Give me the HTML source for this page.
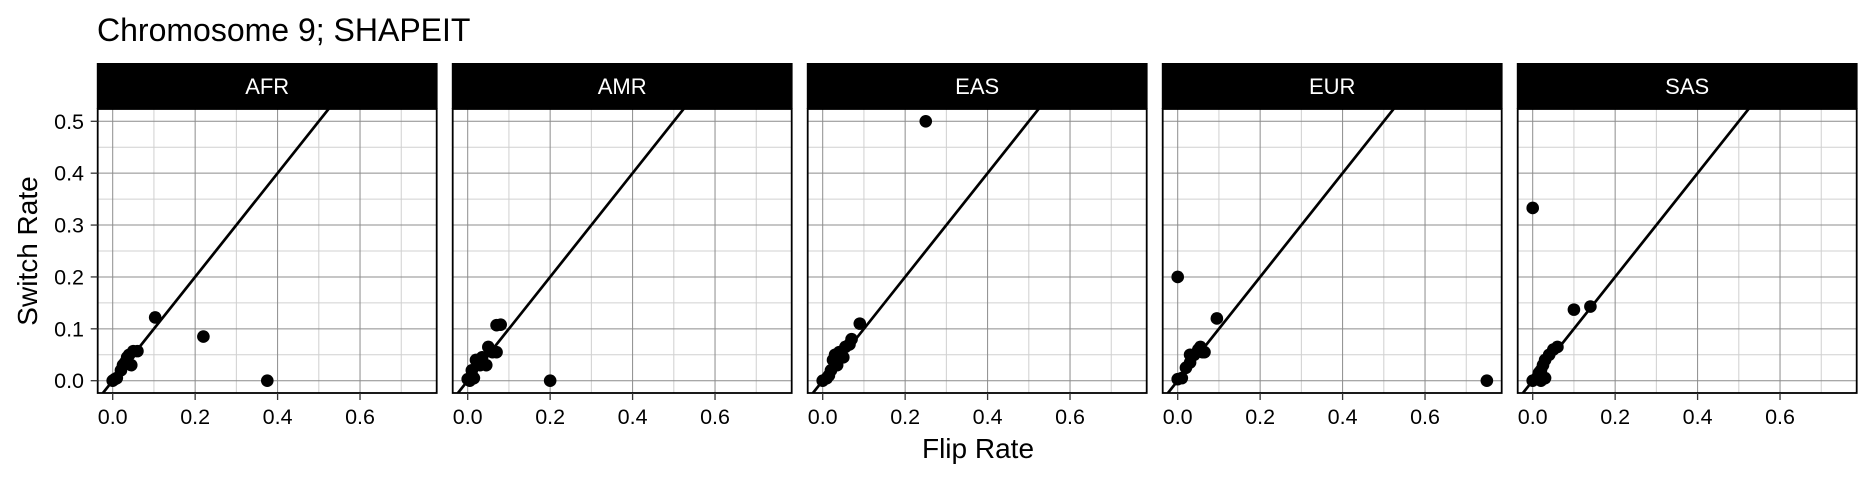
<!DOCTYPE html>
<html><head><meta charset="utf-8"><style>
html,body{margin:0;padding:0;background:#fff;}
svg{display:block;font-family:"Liberation Sans",Arial,sans-serif;}
</style></head><body>
<svg id="chart" width="1872" height="480" viewBox="0 0 1872 480" xmlns="http://www.w3.org/2000/svg">
<text x="97" y="41" font-size="32" fill="#000">Chromosome 9; SHAPEIT</text>
<text transform="translate(37,251) rotate(-90)" text-anchor="middle" font-size="28" fill="#000">Switch Rate</text>
<text x="978" y="458" text-anchor="middle" font-size="28" fill="#000">Flip Rate</text>
<g id="panels"></g>
</svg>
<script>
const panelNames = ["AFR","AMR","EAS","EUR","SAS"];
const xTicks = [0,0.2,0.4,0.6];
const xTickLabels = ["0.0","0.2","0.4","0.6"];
const yTicks = [0,0.1,0.2,0.3,0.4,0.5];
const yTickLabels = ["0.0","0.1","0.2","0.3","0.4","0.5"];
const xMinor = [0.1,0.3,0.5,0.7];
const yMinor = [0.05,0.15,0.25,0.35,0.45];
const afrFlip = [0.0,0.005,0.01,0.02,0.025,0.03,0.035,0.04,0.045,0.05,0.06,0.103,0.22,0.375];
const afrSwitch = [0.0,0.003,0.005,0.02,0.03,0.035,0.045,0.05,0.03,0.057,0.057,0.122,0.085,0.0];
const amrFlip = [0.0,0.005,0.01,0.015,0.01,0.02,0.03,0.035,0.045,0.05,0.06,0.07,0.07,0.08,0.2];
const amrSwitch = [0.003,0.0,0.005,0.005,0.02,0.04,0.03,0.045,0.03,0.065,0.055,0.055,0.107,0.108,0.0];
const easFlip = [0.0,0.01,0.015,0.02,0.025,0.03,0.035,0.04,0.05,0.055,0.065,0.07,0.09,0.25];
const easSwitch = [0.0,0.005,0.01,0.02,0.04,0.05,0.03,0.055,0.045,0.065,0.07,0.08,0.11,0.5];
const eurFlip = [0.0,0.0,0.01,0.02,0.03,0.03,0.04,0.05,0.055,0.06,0.065,0.095,0.75];
const eurSwitch = [0.2,0.003,0.005,0.025,0.035,0.05,0.05,0.06,0.065,0.055,0.055,0.12,0.0];
const sasFlip = [0.0,0.0,0.01,0.015,0.02,0.02,0.025,0.03,0.03,0.04,0.05,0.06,0.1,0.14];
const sasSwitch = [0.333,0.0,0.005,0.015,0.02,0.0,0.03,0.005,0.04,0.05,0.06,0.065,0.137,0.143];
const flipSeries = [afrFlip,amrFlip,easFlip,eurFlip,sasFlip];
const switchSeries = [afrSwitch,amrSwitch,easSwitch,eurSwitch,sasSwitch];

const NS="http://www.w3.org/2000/svg";
const X0=-0.0364, X1=0.786, Y0=-0.0237, Y1=0.5237;
const PW=339, PTOP=109, PBOT=393, STRIPTOP=63;
function mk(tag,attrs,parent){const e=document.createElementNS(NS,tag);for(const k in attrs)e.setAttribute(k,attrs[k]);parent.appendChild(e);return e;}
const root=document.getElementById('panels');
panelNames.forEach((name,pi)=>{
  const L=97.7+pi*355;
  const sx=v=>L+(v-X0)/(X1-X0)*PW;
  const sy=v=>PBOT-(v-Y0)/(Y1-Y0)*(PBOT-PTOP);
  const g=mk('g',{},root);
  
  
  const cid='clip'+pi;
  const cp=mk('clipPath',{id:cid},g);
  mk('rect',{x:L,y:PTOP,width:PW,height:PBOT-PTOP},cp);
  xMinor.forEach(v=>{const l=mk('line',{x1:sx(v),x2:sx(v),y1:PTOP,y2:PBOT,stroke:'#d0d0d0','stroke-width':1},g);});
  yMinor.forEach(v=>{const l=mk('line',{x1:L,x2:L+PW,y1:sy(v),y2:sy(v),stroke:'#d0d0d0','stroke-width':1},g);});
  xTicks.forEach(v=>{const l=mk('line',{x1:sx(v),x2:sx(v),y1:PTOP,y2:PBOT,stroke:'#8c8c8c','stroke-width':1},g);});
  yTicks.forEach(v=>{const l=mk('line',{x1:L,x2:L+PW,y1:sy(v),y2:sy(v),stroke:'#8c8c8c','stroke-width':1},g);});
  const cg=mk('g',{'clip-path':'url(#'+cid+')'},g);
  const ref=mk('line',{x1:sx(-0.1),y1:sy(-0.1),x2:sx(0.8),y2:sy(0.8),stroke:'#000','stroke-width':2.7},cg);
  
  
  const fx=flipSeries[pi], fy=switchSeries[pi];
  fx.forEach((v,i)=>{const c=mk('circle',{cx:sx(v),cy:sy(fy[i]),r:6.3,fill:'#000'},cg);});
  const border=mk('rect',{x:L,y:PTOP,width:PW,height:PBOT-PTOP,fill:'none',stroke:'#000','stroke-width':1.8},g);
  
  
  const strip=mk('rect',{x:L-0.9,y:STRIPTOP,width:PW+1.8,height:PTOP-STRIPTOP,fill:'#000'},g);
  
  
  const st=mk('text',{x:L+PW/2,y:94,'text-anchor':'middle','font-size':22,fill:'#fff'},g);
  st.textContent=name;
  
  
  xTicks.forEach((v,i)=>{
    const t=mk('line',{x1:sx(v),x2:sx(v),y1:PBOT,y2:PBOT+7,stroke:'#333','stroke-width':1.3},g);
    
    
    const tx=mk('text',{x:sx(v),y:424,'text-anchor':'middle','font-size':21.5,fill:'#000'},g);
    tx.textContent=xTickLabels[i];
    
    
  });
  if(pi===0){
    yTicks.forEach((v,i)=>{
      const t=mk('line',{x1:L-7,x2:L,y1:sy(v),y2:sy(v),stroke:'#333','stroke-width':1.3},g);
      
      
      const tx=mk('text',{x:84,y:sy(v)+7.5,'text-anchor':'end','font-size':21.5,fill:'#000'},g);
      tx.textContent=yTickLabels[i];
      
      
    });
  }
});
</script>
</body></html>
